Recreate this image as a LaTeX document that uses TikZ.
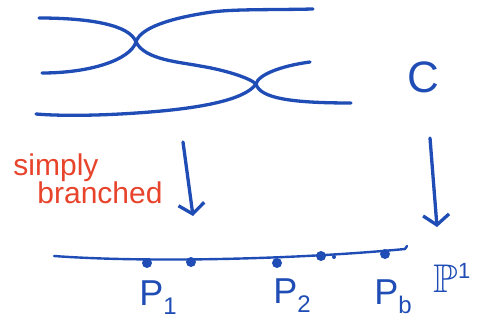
\documentclass[tikz,border=0pt]{standalone}
\usepackage{fontspec}
\setmainfont{Liberation Sans}
\usepackage{amssymb}
\usetikzlibrary{positioning, arrows.meta}
\definecolor{penBlue}{HTML}{1F4DB5}
\definecolor{penRed}{HTML}{E8432B}
\newcommand{\lowsub}[1]{\raisebox{-9pt}{\fontsize{24}{24}\selectfont #1}}

\begin{document}
\begin{tikzpicture}[x=1pt, y=-1pt, line cap=round, line join=round,
  strand/.style={penBlue, line width=3.3pt},
  mapArrow/.style={penBlue, line width=3.3pt, -{Straight Barb[length=10pt, width=26pt]}},
  branchPt/.style={circle, fill=penBlue, inner sep=0pt, minimum size=10pt},
  penLabel/.style={text=penBlue, inner sep=0pt, font=\fontsize{36}{38}\selectfont}]
\useasboundingbox (0,0) rectangle (487,332);
% the curve C with its two simple branch points
\coordinate (cross1) at (136,42);
\coordinate (cross2) at (256,84);
\draw[strand] (39,18) .. controls (90,18) and (130,25) .. (cross1)
  .. controls (130,60) and (90,73) .. (42,73);
\draw[strand] (313,9) .. controls (270,10) and (235,9) .. (212,12) .. controls (170,18) and (140,28) .. (cross1)
  .. controls (145,60) and (180,62) .. (200,66) .. controls (225,70) and (250,78) .. (cross2);
\draw[strand] (cross2) .. controls (245,100) and (200,108) .. (150,112)
  .. controls (100,116) and (60,116) .. (36,114);
\draw[strand] (310,62) .. controls (280,66) and (258,75) .. (cross2)
  .. controls (260,98) and (290,103) .. (351,103);
\node[penLabel, font=\fontsize{44}{46}\selectfont] (curveC) at (423,77) {C};
% the maps down
\coordinate (leftTop) at (183,142);
\coordinate (leftBot) at (193,216);
\draw[mapArrow] (leftTop) -- (leftBot);
\coordinate (rightTop) at (430,138);
\coordinate (rightBot) at (437,227);
\draw[mapArrow] (rightTop) -- (rightBot);
\node[text=penRed, align=left, inner sep=0pt, font=\fontsize{30}{32}\selectfont] (simply) at (88,179)
  {simply\\[-4pt]\hspace*{0.8em}branched};
% the line P^1 and the branch values
\coordinate (lineStart) at (54,256);
\coordinate (lineEnd) at (405,249);
\draw[penBlue, line width=2.4pt] (lineStart) .. controls (150,263) and (300,259) .. (lineEnd) -- ++(2,-3);
\node[branchPt] (d1) at (147,263) {};
\node[branchPt] (d2) at (191,262) {};
\node[branchPt] (d3) at (277,263) {};
\node[branchPt] (d4) at (321,256) {};
\node[branchPt, minimum size=4pt] (d5) at (334,257) {};
\node[branchPt] (d6) at (385,254) {};
\node[penLabel] (p1) at (158,298) {P\lowsub{1}};
\node[penLabel] (p2) at (292,296) {P\lowsub{2}};
\node[penLabel] (pb) at (393,297) {P\lowsub{b}};
\node[penLabel, font=\fontsize{40}{42}\selectfont] (proj) at (452,278) {$\mathbb{P}$\raisebox{14pt}{\fontsize{22}{22}\selectfont 1}};
\end{tikzpicture}
\end{document}
